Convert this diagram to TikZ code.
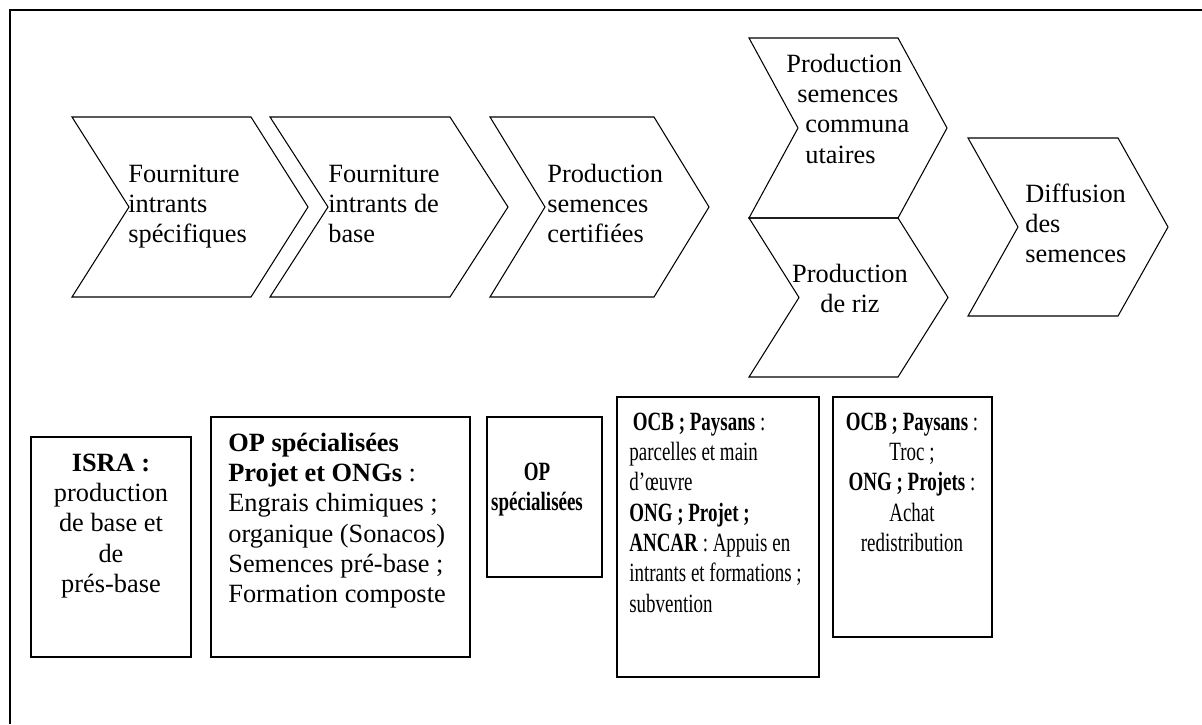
\documentclass[tikz,border=0pt]{standalone}
\usepackage{fontspec}
\setmainfont{Liberation Serif}
\usepackage{graphicx}
\usepackage{tikz}
\usetikzlibrary{positioning}
\newcommand{\leftlines}[1]{\begin{tabular}[t]{@{}l@{}}#1\end{tabular}}
\newcommand{\midlines}[1]{\begin{tabular}[t]{@{}c@{}}#1\end{tabular}}
\newcommand{\narrow}[1]{\scalebox{0.72}[1]{#1}}
% outline of one chevron: left x, top y, body width, height, tip depth
\newcommand{\chevron}[5]{%
  \draw[chev] (#1,#2) -- ({#1+#3},#2) -- ({#1+#3+#5},{#2+#4/2}) -- ({#1+#3},{#2+#4})
    -- (#1,{#2+#4}) -- ({#1+#5},{#2+#4/2}) -- cycle;}

\begin{document}
\begin{tikzpicture}[
  x=0.02cm, y=-0.02cm,
  chev/.style={draw, line width=0.6pt, line join=miter},
  actor/.style={draw, line width=0.8pt},
  lbl/.style={font=\fontsize{15}{17.3}\selectfont, inner sep=0pt, anchor=base west},
  clbl/.style={lbl, anchor=base},
]
  \useasboundingbox (0,0) rectangle (1202,724);
  \draw[line width=1.2pt] (10,724) -- (10,10) -- (1202,10);

  % chain of stages
  \chevron{72}{117}{179}{180}{57}
  \chevron{270}{117}{180}{180}{58}
  \chevron{490}{117}{164}{180}{55}
  \chevron{749}{38}{149}{180}{49}
  \chevron{749}{218}{149}{159}{50}
  \chevron{968}{138}{150}{178}{50}

  \node[lbl] (s1) at (128,182) {\leftlines{Fourniture\\intrants\\spécifiques}};
  \node[lbl] (s2) at (328,182) {\leftlines{Fourniture\\intrants de\\base}};
  \node[lbl] (s3) at (547,182) {\leftlines{Production\\semences\\certifiées}};
  \node[lbl] (s4) at (786,72) {\leftlines{Production\\\hspace{0.22cm}semences\\\hspace{0.38cm}communa\\\hspace{0.38cm}utaires}};
  \node[clbl] (s5) at (850,282) {\midlines{Production\\de riz}};
  \node[lbl] (s6) at (1025,202) {\leftlines{Diffusion\\des\\semences}};

  % actors under each stage
  \draw[actor] (31,437) rectangle (191,657);
  \draw[actor] (211,417) rectangle (470,657);
  \draw[actor] (487,417) rectangle (602,577);
  \draw[actor] (617,397) rectangle (819,677);
  \draw[actor] (833,397) rectangle (992,637);

  \node[clbl] (a1) at (111,471) {\midlines{\textbf{ISRA :}\\production\\de base et\\de\\prés-base}};
  \node[lbl] (a2) at (228,451) {\leftlines{\textbf{OP spécialisées}\\\textbf{Projet et ONGs} :\\Engrais chimiques ;\\organique (Sonacos)\\Semences pré-base ;\\Formation composte}};
  \node[clbl] (a3) at (537,480) {\narrow{\midlines{\textbf{OP}\\\textbf{spécialisées}}}};
  \node[lbl] (a4) at (629,430) {\narrow{\leftlines{\hspace{0.1cm}\textbf{OCB ; Paysans} :\\parcelles et main\\d’œuvre\\\textbf{ONG ; Projet ;}\\\textbf{ANCAR} : Appuis en\\intrants et formations ;\\subvention}}};
  \node[clbl] (a5) at (912,430) {\narrow{\midlines{\textbf{OCB ; Paysans} :\\Troc ;\\\textbf{ONG ; Projets} :\\Achat\\redistribution}}};
\end{tikzpicture}
\end{document}
